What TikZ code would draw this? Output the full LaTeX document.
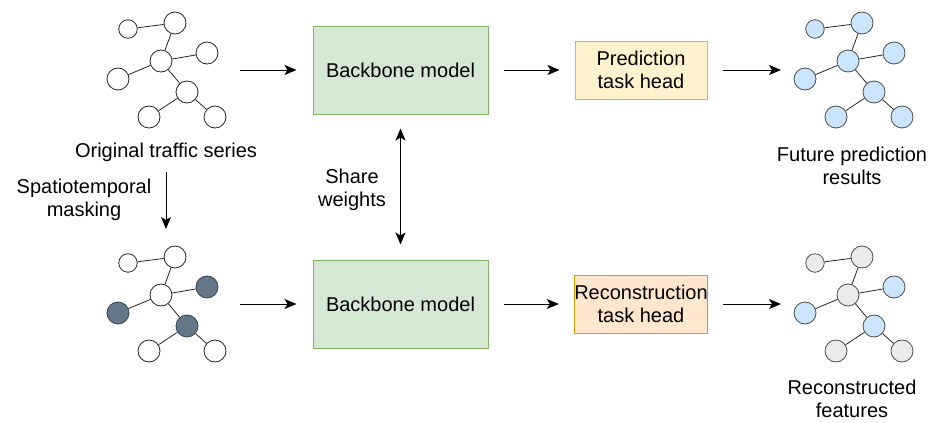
\documentclass[tikz,border=0pt]{standalone}
\usepackage{fontspec}
\setmainfont{Liberation Sans}
\usetikzlibrary{arrows.meta}

\definecolor{bbfill}{HTML}{D5E8D4}
\definecolor{bbdraw}{HTML}{82B366}
\definecolor{predfill}{HTML}{FFF2CC}
\definecolor{preddraw}{HTML}{D6B656}
\definecolor{recfill}{HTML}{FFE6CC}
\definecolor{recdraw}{HTML}{D79B00}
\definecolor{maskfill}{HTML}{647687}
\definecolor{maskdraw}{HTML}{314354}
\definecolor{bluefill}{HTML}{CCE5FF}
\definecolor{greyfill}{HTML}{EBEBEB}
\definecolor{vtxdraw}{HTML}{4D4D4D}

% one small traffic graph: prefix, hub position, style of plain / marked vertices
\newcommand{\trafficgraph}[4]{%
  \begin{scope}[shift={#2}]
    \foreach \n/\x/\y/\s/\d in {a/-33/-32/#3/18.5,b/14/-38/#3/22,c/0/0/#3/22,
        d/46/-8/#4/22,e/-43/18/#4/22,f/26/31/#4/22,g/-12/56/#3/22,h/54/56/#3/22}{
      \node[vtx,\s,minimum size=\d pt] (#1\n) at (\x,\y) {};
    }
    \foreach \u/\v in {a/b,b/c,c/d,c/e,c/f,f/g,f/h}{
      \draw[line width=.8pt,black!85] (#1\u) -- (#1\v);
    }
  \end{scope}}

\begin{document}
\begin{tikzpicture}[x=1pt,y=-1pt,
  every node/.style={font=\fontsize{20}{23}\selectfont,align=center},
  vtx/.style={circle,line width=.8pt,inner sep=0pt},
  vwhite/.style={draw=black!85,fill=white},
  vmask/.style={draw=maskdraw,fill=maskfill},
  vblue/.style={draw=vtxdraw,fill=bluefill},
  vgrey/.style={draw=vtxdraw,fill=greyfill},
  box/.style={draw,line width=1pt,inner sep=0pt},
  flow/.style={-{Stealth[length=12pt,width=10pt,inset=3pt]},line width=1pt},
  both/.style={{Stealth[length=12pt,width=10pt,inset=3pt]}-{Stealth[length=12pt,width=10pt,inset=3pt]},line width=1pt}]
\useasboundingbox (0,0) rectangle (932,423);

% graphs
\trafficgraph{o}{(161,61)}{vwhite}{vwhite}
\trafficgraph{m}{(161,295)}{vwhite}{vmask}
\trafficgraph{p}{(848,61)}{vblue}{vblue}
\trafficgraph{r}{(848,295)}{vgrey}{vblue}

% models and heads
\node[box,fill=bbfill,draw=bbdraw,minimum width=175pt,minimum height=88pt] (bbtop) at (400.5,70) {Backbone model};
\node[box,fill=bbfill,draw=bbdraw,minimum width=175pt,minimum height=88pt] (bbbot) at (400.5,304) {Backbone model};
\node[box,fill=predfill,draw=preddraw,minimum width=132pt,minimum height=58pt] (pred) at (641,70) {Prediction\\task head};
\node[box,fill=recfill,draw=recdraw,minimum width=132pt,minimum height=58pt] (rec) at (641,304) {Reconstruction\\task head};

% labels
\node[inner sep=0pt] (otitle) at (166,152) {Original traffic series};
\node[inner sep=0pt] (masklbl) at (84,200) {Spatiotemporal\\masking};
\node[inner sep=0pt] (share) at (352,190) {Share\\weights};
\node[inner sep=0pt] (ptitle) at (852,166) {Future prediction\\results};
\node[inner sep=0pt] (rtitle) at (852,399) {Reconstructed\\features};

% loose arrow ends next to the graphs
\coordinate (oout) at (240,70);
\coordinate (mout) at (240,304);
\coordinate (pin) at (781,70);
\coordinate (rin) at (781,304);
\coordinate (mtop) at (166,229);

\draw[flow,shorten >=16pt] (oout) -- (bbtop.west|-oout);
\draw[flow,shorten >=16pt] (mout) -- (bbbot.west|-mout);
\draw[flow,shorten <=15pt,shorten >=15pt] (bbtop.east) -- (pred.west);
\draw[flow,shorten <=15pt,shorten >=15pt] (bbbot.east) -- (rec.west);
\draw[flow,shorten <=15pt] (pred.east|-pin) -- (pin);
\draw[flow,shorten <=15pt] (rec.east|-rin) -- (rin);
\draw[flow,shorten <=10pt] (otitle.south) -- (mtop);
\draw[both,shorten <=14pt,shorten >=15pt] (bbtop.south) -- (bbbot.north);
\end{tikzpicture}
\end{document}
